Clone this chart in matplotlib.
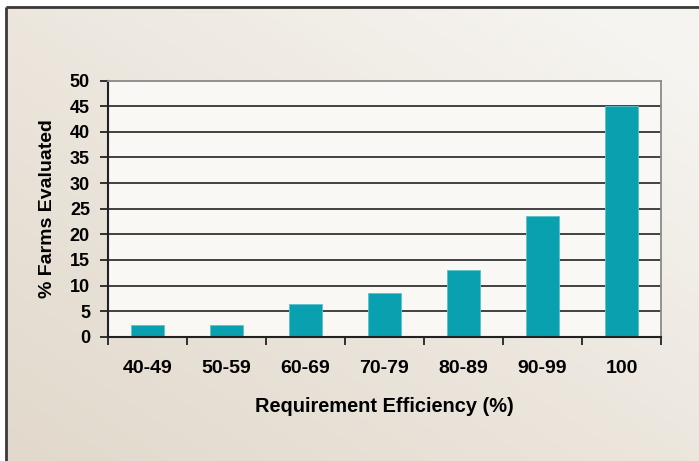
import numpy as np
import matplotlib
matplotlib.use("Agg")
import matplotlib.pyplot as plt
from matplotlib.colors import LinearSegmentedColormap

plt.rcParams['font.family'] = ['Liberation Sans', 'DejaVu Sans']
plt.rcParams['font.weight'] = 'bold'

# requirement efficiency bins and share of farms in each
categories = ["40-49", "50-59", "60-69", "70-79", "80-89", "90-99", "100"]
pct_farms = [2.2, 2.2, 6.4, 8.5, 13.0, 23.6, 45.0]
y_ticks = [0, 5, 10, 15, 20, 25, 30, 35, 40, 45, 50]

W, H = 699, 461
fig = plt.figure(figsize=(W / 100, H / 100), dpi=100)
fig.patch.set_facecolor("white")

# beige diagonal gradient behind everything, framed on top/left
bg = fig.add_axes([0, 0, 1, 1], zorder=-5)
bg.set_xlim(0, W)
bg.set_ylim(H, 0)
bg.axis("off")
xx, yy = np.meshgrid(np.linspace(0, 1, 200), np.linspace(0, 1, 200))
t = np.clip(0.55 * xx + 0.55 * (1 - yy), 0, 1)
cmap = LinearSegmentedColormap.from_list("beige", ["#e2d9cc", "#ebe5dc", "#f6f4f0"])
bg.imshow(t, cmap=cmap, extent=[6, W, H, 7], origin="upper", aspect="auto")
bg.plot([6, W], [7, 7], color="#3a3a3a", lw=2, solid_capstyle="butt")
bg.plot([6, 6], [7, H], color="#3a3a3a", lw=2, solid_capstyle="butt")

ax = fig.add_axes([108 / W, 1 - 336.7 / H, (661 - 108) / W, (336.7 - 80.7) / H])
ax.set_facecolor("#f9f8f5")

x = np.arange(len(categories))
ax.bar(x, pct_farms, width=0.43, color="#09a0b0", edgecolor="#5cc3cd",
       linewidth=0.6, zorder=3)

ax.set_xlim(-0.5, len(categories) - 0.5)
ax.set_ylim(0, 50)
ax.set_yticks(y_ticks)
ax.set_yticklabels([str(v) for v in y_ticks], fontsize=13, fontweight="bold")
for v in y_ticks[1:-1]:
    ax.axhline(v, color="#111111", lw=1.1, zorder=1)

ax.set_xticks(x)
ax.set_xticklabels(categories, fontsize=14, fontweight="bold")
ax.set_xticks(np.arange(-0.5, len(categories)), minor=True)
ax.tick_params(axis="x", which="major", length=0, pad=17)
ax.tick_params(axis="x", which="minor", length=6, width=1.3, color="#222222",
               direction="out")
ax.tick_params(axis="y", length=6, width=1.3, color="#222222", pad=7,
               direction="out")

for side in ["left", "bottom"]:
    ax.spines[side].set_color("#222222")
    ax.spines[side].set_linewidth(1.5)
for side in ["top", "right"]:
    ax.spines[side].set_color("#8a8a8a")
    ax.spines[side].set_linewidth(1.3)
ax.spines["bottom"].set_zorder(4)

ax.set_xlabel("Requirement Efficiency (%)", fontsize=14.4, fontweight="bold",
              labelpad=14)
ax.set_ylabel("% Farms Evaluated", fontsize=14, fontweight="bold", labelpad=10)

fig.savefig("out.png", dpi=100)
